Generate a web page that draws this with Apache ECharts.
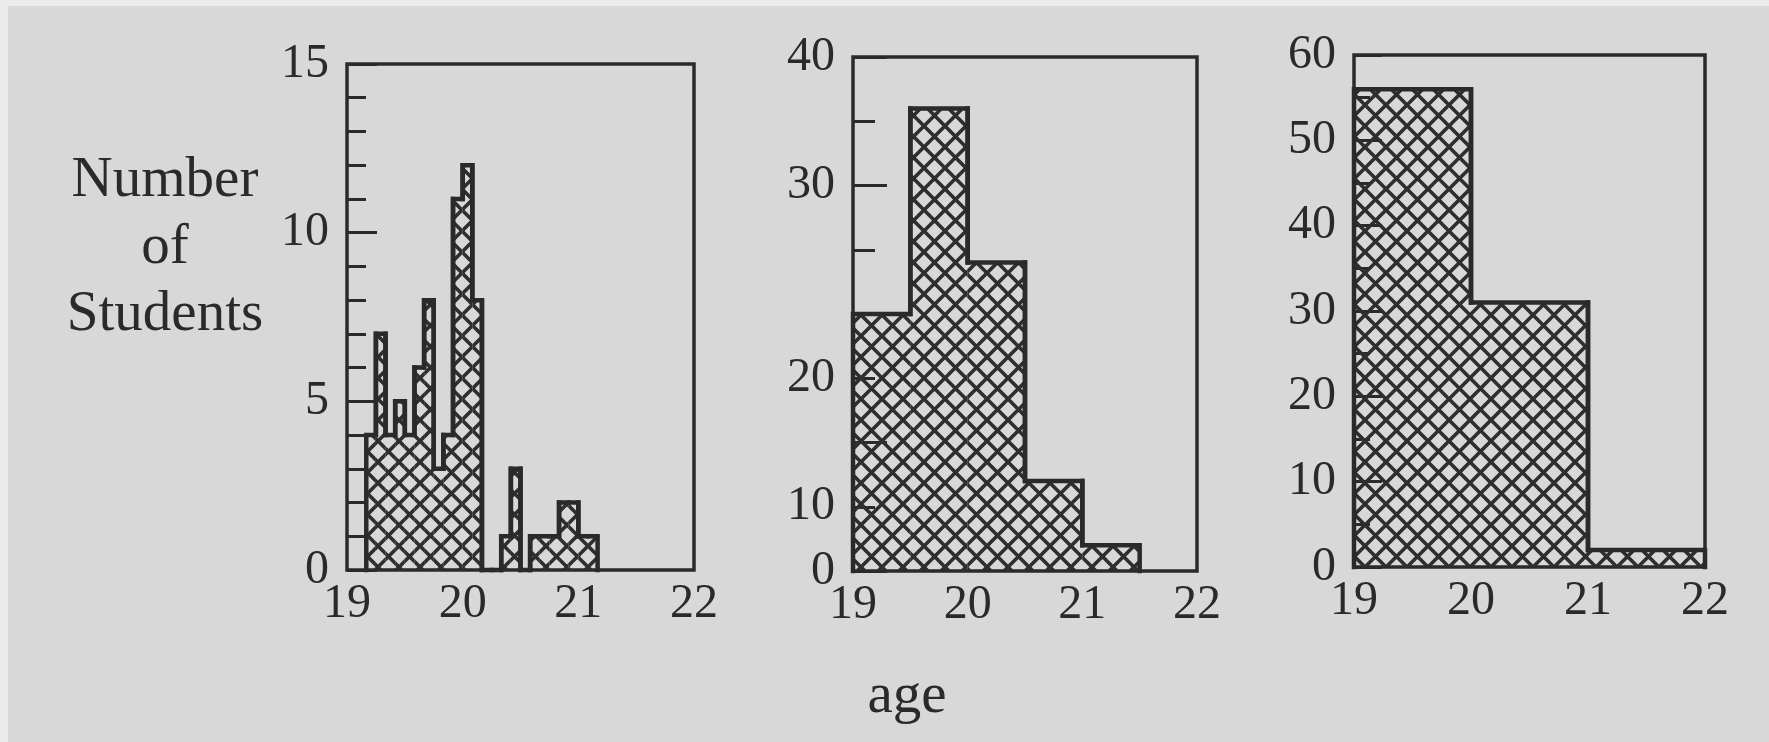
<!DOCTYPE html>
<html>
<head>
<meta charset="utf-8">
<script src="https://cdn.jsdelivr.net/npm/echarts@6/dist/echarts.min.js"></script>
<style>
  html, body { margin: 0; padding: 0; background: #d8d8d8; }
  #chart { width: 1769px; height: 742px; }
</style>
</head>
<body>
<div id="chart"></div>
<script>
// Ages of the same 89 students, binned three ways.
// One-month bins, from 19 years 2 months up to 21 years 2 months.
const monthlyCounts = [4, 7, 4, 5, 4, 6, 8, 3, 4, 11, 12, 8, 0, 0, 1, 3, 0, 1, 1, 1, 2, 2, 1, 1];
const monthlyStart = 19 + 2 / 12;
const monthlyWidth = 1 / 12;
// Half-year bins from 19.
const halfYearCounts = [20, 36, 24, 7, 2];
const halfYearStart = 19;
const halfYearWidth = 0.5;
// One-year bins from 19.
const yearCounts = [56, 31, 2];
const yearStart = 19;
const yearWidth = 1;

// Tick labels on each panel's count axis (value -> printed text).
const leftLabelAt = [0, 5, 10, 15];
const leftLabelText = ['0', '5', '10', '15'];
const midLabelAt = [0, 5, 15, 30, 40];
const midLabelText = ['0', '10', '20', '30', '40'];
const rightLabelAt = [0, 10, 20, 30, 40, 50, 60];
const rightLabelText = ['0', '10', '20', '30', '40', '50', '60'];

const INK = '#2a2a2a';
const FONT = 'Liberation Serif';

// Cross-hatch tile used to fill the bars.
function makeHatch(d, w, color) {
  const c = document.createElement('canvas');
  c.width = d; c.height = d;
  const g = c.getContext('2d');
  g.strokeStyle = color;
  g.lineWidth = w;
  g.beginPath();
  for (let k = -1; k <= 1; k++) {
    g.moveTo(k * d, 0); g.lineTo(k * d + d, d);
    g.moveTo(k * d + d, 0); g.lineTo(k * d, d);
  }
  g.stroke();
  return c;
}
const hatch = { image: makeHatch(21, 3.6, '#2e2e2e'), repeat: 'repeat' };

// Each bin: [left edge, right edge, count, previous count, next count]
function toBins(counts, start, width) {
  return counts.map((h, i) => [
    start + i * width,
    start + (i + 1) * width,
    h,
    i > 0 ? counts[i - 1] : 0,
    i < counts.length - 1 ? counts[i + 1] : 0
  ]);
}

function renderBin(params, api) {
  const x0 = api.value(0), x1 = api.value(1), h = api.value(2);
  const hp = api.value(3), hn = api.value(4);
  const base = api.coord([x0, 0]);
  const topRight = api.coord([x1, h]);
  const children = [];
  if (h > 0) {
    children.push({
      type: 'rect',
      shape: { x: base[0], y: topRight[1], width: topRight[0] - base[0], height: base[1] - topRight[1] },
      style: { fill: hatch },
      silent: true
    });
  }
  children.push({
    type: 'polyline',
    shape: { points: [api.coord([x0, hp]), api.coord([x0, h]), api.coord([x1, h]), api.coord([x1, hn])] },
    style: { stroke: INK, lineWidth: 4.5, fill: null, lineJoin: 'miter', lineCap: 'square' },
    silent: true
  });
  return { type: 'group', children };
}

function lookupLabel(at, text) {
  return v => {
    const i = at.indexOf(Math.round(v * 1000) / 1000);
    return i >= 0 ? text[i] : '';
  };
}

const grids = [
  { left: 347, top: 64, width: 347, height: 506 },
  { left: 853, top: 57, width: 344, height: 514 },
  { left: 1354, top: 55, width: 351, height: 512 }
].map(g => Object.assign(g, { show: true, borderColor: INK, borderWidth: 3.5, backgroundColor: 'transparent' }));

function ageAxis(gridIndex) {
  return {
    type: 'value', gridIndex, min: 19, max: 22, interval: 1,
    axisLine: { show: false }, axisTick: { show: false }, splitLine: { show: false },
    axisLabel: { color: INK, fontFamily: FONT, fontSize: 48, margin: 10 }
  };
}

function countAxis(gridIndex, max, interval, at, text, tickLen, minorSplit, minorLen) {
  return {
    type: 'value', gridIndex, position: 'left', min: 0, max, interval,
    axisLine: { show: false }, splitLine: { show: false },
    axisTick: { show: true, inside: true, length: tickLen, lineStyle: { color: INK, width: 3 } },
    minorTick: { show: minorSplit > 0, splitNumber: minorSplit || 1, length: minorLen, lineStyle: { color: INK, width: 3 } },
    minorSplitLine: { show: false },
    axisLabel: { color: INK, fontFamily: FONT, fontSize: 48, margin: 18, formatter: lookupLabel(at, text) }
  };
}

const chart = echarts.init(document.getElementById('chart'), null, { renderer: 'canvas' });

chart.setOption({
  backgroundColor: '#d8d8d8',
  animation: false,
  grid: grids,
  xAxis: [ageAxis(0), ageAxis(1), ageAxis(2)],
  yAxis: [
    countAxis(0, 15, 5, leftLabelAt, leftLabelText, 30, 5, 19),
    countAxis(1, 40, 5, midLabelAt, midLabelText, 22, 0, 0),
    countAxis(2, 60, 10, rightLabelAt, rightLabelText, 28, 2, 16),
    // longer ticks every 10 on the middle panel
    {
      type: 'value', gridIndex: 1, position: 'left', offset: 0, min: 0, max: 40, interval: 10,
      axisLine: { show: false }, splitLine: { show: false },
      axisLabel: { show: false },
      axisTick: { show: true, inside: true, length: 34, lineStyle: { color: INK, width: 3 } }
    }
  ],
  series: [
    { type: 'custom', xAxisIndex: 0, yAxisIndex: 0, data: toBins(monthlyCounts, monthlyStart, monthlyWidth),
      encode: { x: [0, 1], y: 2 }, renderItem: renderBin, clip: false },
    { type: 'custom', xAxisIndex: 1, yAxisIndex: 1, data: toBins(halfYearCounts, halfYearStart, halfYearWidth),
      encode: { x: [0, 1], y: 2 }, renderItem: renderBin, clip: false },
    { type: 'custom', xAxisIndex: 2, yAxisIndex: 2, data: toBins(yearCounts, yearStart, yearWidth),
      encode: { x: [0, 1], y: 2 }, renderItem: renderBin, clip: false }
  ],
  graphic: [
    { type: 'rect', z: -10, shape: { x: 0, y: 0, width: 1769, height: 6 }, style: { fill: '#ebebeb' }, silent: true },
    { type: 'rect', z: -10, shape: { x: 0, y: 0, width: 8, height: 742 }, style: { fill: '#ebebeb' }, silent: true },
    {
      type: 'text',
      style: {
        text: 'Number\nof\nStudents', x: 165, y: 248,
        textAlign: 'center', textVerticalAlign: 'middle',
        fontFamily: FONT, fontSize: 57, lineHeight: 67, fill: INK
      }
    },
    {
      type: 'text',
      style: {
        text: 'age', x: 907, y: 697,
        textAlign: 'center', textVerticalAlign: 'middle',
        fontFamily: FONT, fontSize: 57, fill: INK
      }
    }
  ]
});
</script>
</body>
</html>
